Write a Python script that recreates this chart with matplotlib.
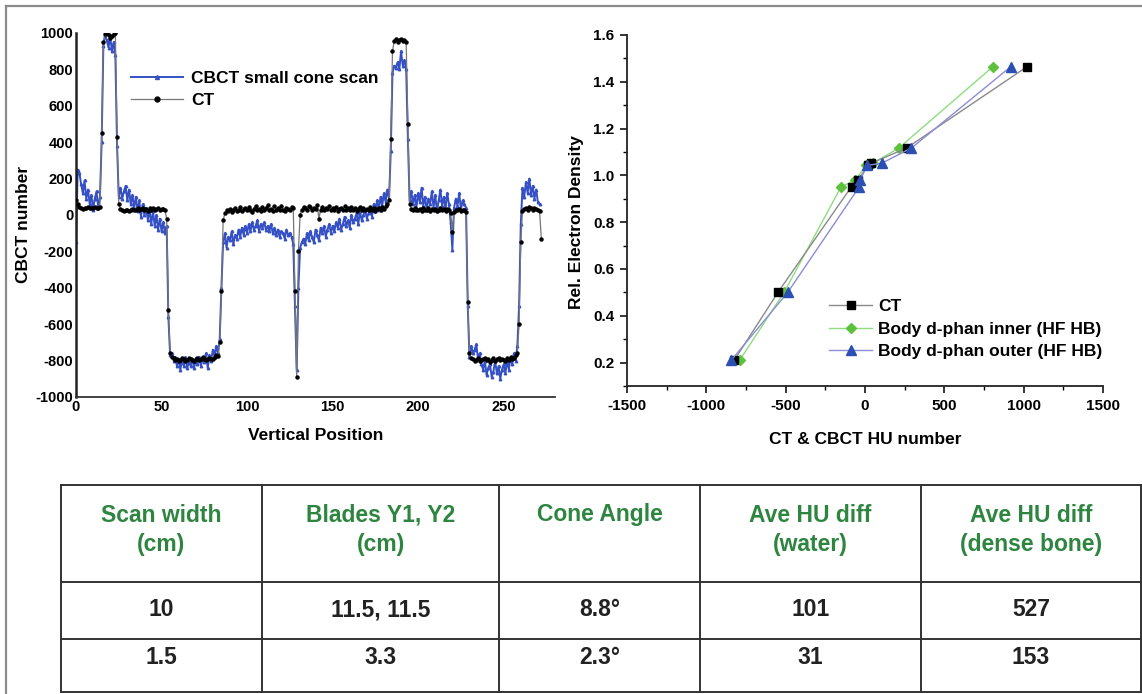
"""CBCT vs CT profile, electron density calibration and scan settings table."""

import matplotlib

matplotlib.use("Agg")
import matplotlib.pyplot as plt
import numpy as np
from matplotlib.lines import Line2D
from matplotlib.ticker import MultipleLocator, FormatStrFormatter

plt.rcParams["font.family"] = ["Liberation Sans", "DejaVu Sans"]
plt.rcParams["font.weight"] = "bold"
plt.rcParams["axes.unicode_minus"] = False

# profile along the phantom, one sample per position unit
CT_PROFILE = [
    80, 60, 45, 40, 35, 40, 38, 42, 40, 36,
    40, 42, 38, 40, 45, 450, 950, 995, 1000, 990,
    975, 985, 995, 1000, 430, 60, 35, 25, 20, 25,
    30, 22, 28, 35, 25, 30, 38, 26, 32, 40,
    28, 33, 24, 36, 30, 38, 28, 34, 40, 30,
    35, 32, 25, -20, -520, -760, -780, -785, -795, -790,
    -800, -795, -788, -792, -800, -795, -785, -790, -796, -802,
    -790, -785, -795, -790, -780, -792, -798, -790, -785, -793,
    -790, -780, -770, -775, -700, -420, -30, 10, 25, 20,
    35, 15, 30, 40, 22, 28, 45, 20, 32, 38,
    25, 42, 30, 18, 35, 50, 28, 33, 22, 45,
    30, 38, 55, 25, 35, 20, 48, 30, 40, 25,
    52, 30, 22, 40, 35, 28, 45, 40, -420, -890,
    -200, 0, 30, 45, 38, 30, 50, 42, 25, 40,
    35, 55, -20, 30, 45, 28, 40, 32, 50, 25,
    38, 30, 45, 22, 35, 40, 28, 48, 30, 36,
    25, 42, 30, 38, 20, 35, 45, 28, 40, 30,
    35, 25, 42, 30, 38, 22, 35, 40, 30, 45,
    35, 48, 60, 80, 420, 900, 955, 965, 950, 960,
    968, 955, 960, 950, 500, 60, 35, 28, 40, 30,
    25, 35, 20, 38, 30, 26, 40, 22, 32, 28,
    35, 20, 30, 38, 25, 32, 20, 35, 28, 10,
    -95, 15, 30, 25, 35, 20, 30, 25, 15, -480,
    -760, -785, -790, -800, -795, -788, -802, -795, -790, -785,
    -798, -790, -805, -795, -788, -800, -792, -785, -798, -790,
    -795, -802, -788, -795, -780, -790, -785, -770, -760, -600,
    -150, 20, 35, 40, 30, 45, 38, 25, 40, 35,
    30, 20, -130,
]
CBCT_PROFILE = [
    -150, 250, 230, 170, 120, 190, 90, 140, 60, 110,
    30, 90, 130, 40, 100, 400, 930, 990, 960, 920,
    980, 900, 950, 880, 380, 100, 150, 90, 130, 160,
    80, 140, 60, 110, 40, 100, 20, 80, -10, 60,
    0, 40, -30, 30, -50, 20, -60, 0, -80, -20,
    -90, -40, -100, -60, -560, -770, -760, -800, -780, -830,
    -790, -850, -800, -830, -780, -840, -810, -830, -790, -840,
    -800, -820, -780, -830, -790, -810, -760, -840, -770, -800,
    -740, -780, -720, -760, -680, -400, -150, -100, -180, -120,
    -140, -90, -160, -110, -130, -80, -120, -70, -110, -60,
    -100, -50, -90, -40, -80, -60, -30, -90, -50, -70,
    -40, -80, -60, -90, -50, -100, -70, -110, -80, -120,
    -90, -100, -130, -80, -110, -100, -120, -160, -500, -850,
    -400, -180, -150, -130, -160, -100, -140, -90, -120, -150,
    -80, -110, -140, -70, -100, -60, -120, -80, -50, -100,
    -60, -90, -40, -70, -20, -80, -50, -10, -60, -30,
    -70, 0, -40, -20, 10, -50, 20, -30, 0, 30,
    -20, 10, 40, -10, 60, 20, 80, 30, 100, 50,
    120, 70, 140, 90, 350, 780, 820, 810, 840, 800,
    900, 820, 850, 800, 420, 80, 130, 60, 110, 40,
    120, 70, 150, 50, 100, 30, 90, 60, 130, 40,
    110, 20, 80, 140, 50, 100, 30, 120, 60, -40,
    -190, 40, 90, 50, 120, 30, 80, 60, 40, -500,
    -780, -720, -760, -740, -710, -790, -760, -820, -850, -800,
    -880, -840, -820, -890, -860, -800, -870, -830, -900, -850,
    -820, -870, -800, -850, -780, -820, -760, -800, -720, -500,
    -50, 150, 100, 180, 120, 200, 110, 160, 90, 140,
    70, 60,
]

# electron density calibration
RED = [0.21, 0.50, 0.952, 0.98, 1.043, 1.052, 1.117, 1.465]
HU_CT = [-824, -549, -85, -45, 20, 40, 262, 1022]
HU_INNER = [-790, -510, -150, -60, 5, 50, 213, 807]
HU_OUTER = [-843, -487, -35, -30, 14, 105, 293, 919]

# scan settings table
TABLE_HEADER = [
    ("Scan width", "(cm)"),
    ("Blades Y1, Y2", "(cm)"),
    ("Cone Angle", ""),
    ("Ave HU diff", "(water)"),
    ("Ave HU diff", "(dense bone)"),
]
TABLE_ROWS = [
    ["10", "11.5, 11.5", "8.8°", "101", "527"],
    ["1.5", "3.3", "2.3°", "31", "153"],
]

W, H = 1142, 694
fig = plt.figure(figsize=(W / 100, H / 100), dpi=100)


def fig_rect(x0, y0, x1, y1):
    return [x0 / W, 1 - y1 / H, (x1 - x0) / W, (y1 - y0) / H]


# ---- left: profile ----
ax1 = fig.add_axes(fig_rect(76, 33, 555, 397))
pos_ct = np.arange(len(CT_PROFILE))
pos_cbct = np.arange(len(CBCT_PROFILE))
ax1.plot(pos_cbct, CBCT_PROFILE, color="#3450c4", lw=1.4, marker="^", ms=1.8,
         label="CBCT small cone scan", zorder=2)
ax1.plot(pos_ct, CT_PROFILE, color="#777777", lw=0.9, marker="o", ms=2.2,
         mfc="black", mec="black", label="CT", zorder=3)
ax1.set_xlim(0, 280)
ax1.set_ylim(-1000, 1000)
ax1.xaxis.set_major_locator(MultipleLocator(50))
ax1.yaxis.set_major_locator(MultipleLocator(200))
for side in ("top", "right"):
    ax1.spines[side].set_visible(False)
ax1.spines["left"].set_linewidth(1.8)
ax1.spines["left"].set_color("#222222")
ax1.spines["bottom"].set_linewidth(1.3)
ax1.spines["bottom"].set_color("#333333")
ax1.tick_params(length=0, pad=2, labelsize=10.5)
ax1.set_xlabel("Vertical Position", fontsize=12.5, fontweight="bold")
ax1.set_ylabel("CBCT number", fontsize=12.5, fontweight="bold")
ax1.xaxis.set_label_coords(0.5, -0.085)
ax1.yaxis.set_label_coords(-0.093, 0.473)
ax1.legend(loc="upper left", bbox_to_anchor=(131 / W, 1 - 71 / H),
           bbox_transform=fig.transFigure, frameon=False, fontsize=12.5,
           handlelength=3.0, handletextpad=0.45, labelspacing=0.38,
           borderpad=0, borderaxespad=0, markerscale=1.6)

# ---- right: electron density ----
ax2 = fig.add_axes(fig_rect(627, 35, 1103, 386))
ax2.plot(HU_CT, RED, color="#8a8a8a", lw=1.0, marker="s", ms=5.5,
         mfc="black", mec="black", label="CT", zorder=3)
ax2.plot(HU_INNER, RED, color="#8fdc80", lw=1.0, marker="D", ms=5.5,
         mfc="#5cc23c", mec="#5cc23c", label="Body d-phan inner (HF HB)", zorder=2)
ax2.plot(HU_OUTER, RED, color="#8c8cd8", lw=1.0, marker="^", ms=7.5,
         mfc="#2c4fb4", mec="#2c4fb4", label="Body d-phan outer (HF HB)", zorder=4)
ax2.set_xlim(-1500, 1500)
ax2.set_ylim(0.1, 1.6)
ax2.xaxis.set_major_locator(MultipleLocator(500))
ax2.xaxis.set_minor_locator(MultipleLocator(250))
ax2.yaxis.set_major_locator(MultipleLocator(0.2))
ax2.yaxis.set_minor_locator(MultipleLocator(0.1))
ax2.yaxis.set_major_formatter(FormatStrFormatter("%.1f"))
for side in ("top", "right"):
    ax2.spines[side].set_visible(False)
for side in ("left", "bottom"):
    ax2.spines[side].set_linewidth(1.3)
    ax2.spines[side].set_color("#222222")
ax2.tick_params(which="major", length=5, width=1.1, pad=4, labelsize=11)
ax2.tick_params(which="minor", length=3, width=1.0)
ax2.set_xlabel("CT & CBCT HU number", fontsize=12.5, fontweight="bold")
ax2.set_ylabel("Rel. Electron Density", fontsize=12.5, fontweight="bold")
ax2.xaxis.set_label_coords(0.5, -0.131)
ax2.yaxis.set_label_coords(-0.09, 0.467)
ax2.legend(loc="upper left", bbox_to_anchor=(829 / W, 1 - 299 / H),
           bbox_transform=fig.transFigure, frameon=False, fontsize=12.5,
           handlelength=2.5, handletextpad=0.35, labelspacing=0.42,
           borderpad=0, borderaxespad=0)

# ---- bottom: table and frame, drawn in pixel space ----
ax3 = fig.add_axes([0, 0, 1, 1], zorder=-1)
ax3.set_xlim(0, W)
ax3.set_ylim(H, 0)
ax3.axis("off")

ax3.add_line(Line2D([5.5, W], [5.5, 5.5], color="#8c8c8c", lw=1.6))
ax3.add_line(Line2D([5.5, 5.5], [5.5, H], color="#8c8c8c", lw=1.6))

col_edges = [61, 262, 499, 700, 921, 1141]
row_edges = [485, 582, 639, 692]
for x in col_edges:
    ax3.add_line(Line2D([x, x], [row_edges[0], row_edges[-1]], color="#333333", lw=1.4))
for y in row_edges:
    ax3.add_line(Line2D([col_edges[0], col_edges[-1]], [y, y], color="#333333", lw=1.4))

green = "#2e8540"
for i, (line1, line2) in enumerate(TABLE_HEADER):
    cx = (col_edges[i] + col_edges[i + 1]) / 2
    ax3.text(cx, 515, line1, ha="center", va="center", fontsize=16.5,
             fontweight="bold", color=green)
    if line2:
        ax3.text(cx, 545, line2, ha="center", va="center", fontsize=16.5,
                 fontweight="bold", color=green)

row_y = [610, 658]
for r, row in enumerate(TABLE_ROWS):
    for i, val in enumerate(row):
        cx = (col_edges[i] + col_edges[i + 1]) / 2
        ax3.text(cx, row_y[r], val, ha="center", va="center", fontsize=16.5,
                 fontweight="bold", color="#222222")

fig.savefig("out.png", dpi=100, facecolor="white")
